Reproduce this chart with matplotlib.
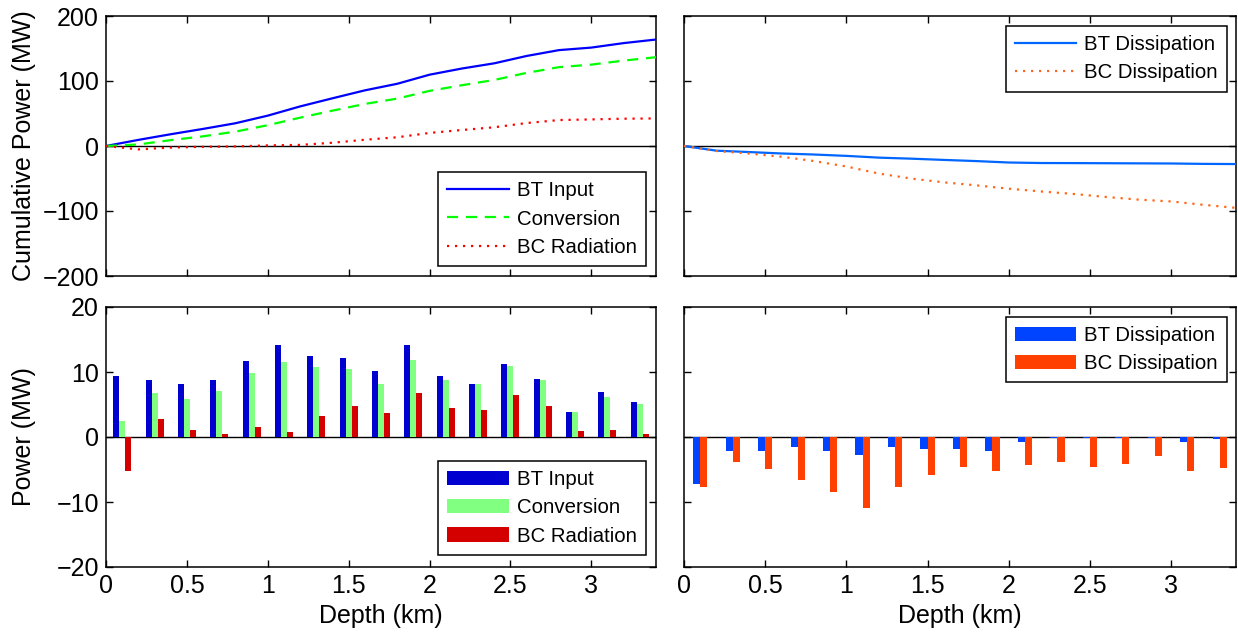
import numpy as np
import matplotlib
matplotlib.use("Agg")
import matplotlib.pyplot as plt

plt.rcParams['font.family'] = ['Liberation Sans', 'DejaVu Sans']

# ---------------- data ----------------
depth_cum = [0.0, 0.2, 0.4, 0.6, 0.8, 1.0, 1.2, 1.4, 1.6, 1.8, 2.0,
             2.2, 2.4, 2.6, 2.8, 3.0, 3.2, 3.4]
cum_bt_input = [0, 9.4, 18.1, 26.3, 35.0, 46.7, 60.9, 73.4, 85.6, 95.7, 109.7,
                119.2, 127.2, 138.5, 147.5, 151.4, 158.3, 163.8]
cum_conversion = [0, 2.4, 9.0, 14.9, 22.1, 32.0, 43.6, 54.4, 64.7, 72.9, 84.8,
                  93.5, 101.6, 112.5, 121.3, 125.2, 131.4, 136.6]
cum_bc_radiation = [0, -5.2, -2.4, -1.2, -0.7, 0.9, 1.7, 5.0, 9.6, 13.4, 20.1,
                    24.6, 28.8, 35.3, 39.9, 40.9, 42.0, 42.4]
cum_bt_diss = [0, -7.2, -9.3, -11.5, -13.1, -15.2, -17.9, -19.5, -21.4, -23.2, -25.4,
               -26.2, -26.3, -26.5, -26.7, -26.9, -27.5, -27.8]
cum_bc_diss = [0, -7.7, -11.6, -16.5, -23.1, -31.5, -42.4, -50.1, -55.9, -60.5, -65.7,
               -69.9, -73.8, -78.4, -82.5, -85.3, -90.5, -95.2]

depth_bin = [0.1, 0.3, 0.5, 0.7, 0.9, 1.1, 1.3, 1.5, 1.7, 1.9, 2.1,
             2.3, 2.5, 2.7, 2.9, 3.1, 3.3]
bt_input = [9.4, 8.7, 8.2, 8.7, 11.7, 14.2, 12.5, 12.2, 10.1, 14.1, 9.4,
            8.1, 11.3, 9.0, 3.9, 7.0, 5.4]
conversion = [2.4, 6.7, 5.9, 7.1, 9.9, 11.6, 10.8, 10.4, 8.2, 11.9, 8.7,
              8.1, 11.0, 8.8, 3.9, 6.2, 5.1]
bc_radiation = [-5.2, 2.8, 1.1, 0.5, 1.6, 0.8, 3.3, 4.7, 3.7, 6.7, 4.5,
                4.2, 6.5, 4.7, 1.0, 1.1, 0.4]
bt_diss = [-7.2, -2.1, -2.2, -1.6, -2.1, -2.7, -1.6, -1.9, -1.8, -2.2, -0.8,
           -0.1, -0.2, -0.2, -0.15, -0.7, -0.3]
bc_diss = [-7.7, -3.9, -4.9, -6.6, -8.5, -10.9, -7.7, -5.8, -4.6, -5.2, -4.3,
           -3.9, -4.6, -4.1, -2.9, -5.2, -4.7]

xticks = [0, 0.5, 1, 1.5, 2, 2.5, 3]
xticklabels = ['0', '0.5', '1', '1.5', '2', '2.5', '3']
top_yticks = [-200, -100, 0, 100, 200]
bot_yticks = [-20, -10, 0, 10, 20]

# ---------------- figure ----------------
W, H = 1238, 635
fig = plt.figure(figsize=(W / 100, H / 100), dpi=100)

def rect(x0, y0, x1, y1):
    return [x0 / W, 1 - y1 / H, (x1 - x0) / W, (y1 - y0) / H]

ax_tl = fig.add_axes(rect(106, 16, 656, 276))
ax_tr = fig.add_axes(rect(684, 16, 1236, 276))
ax_bl = fig.add_axes(rect(106, 307, 656, 567))
ax_br = fig.add_axes(rect(684, 307, 1236, 567))

FS = 18
LFS = 14.7

def style(ax, ylim, yticks, show_x, show_y):
    ax.set_xlim(0, 3.4)
    ax.set_ylim(*ylim)
    ax.set_xticks(xticks)
    ax.set_yticks(yticks)
    if show_x:
        ax.set_xticklabels(xticklabels)
        ax.set_xlabel('Depth (km)', fontsize=FS, labelpad=4)
    else:
        ax.set_xticklabels([])
    if not show_y:
        ax.set_yticklabels([])
    ax.tick_params(direction='in', length=5, width=1, top=True, right=True,
                   labelsize=FS, pad=5, colors='black')
    for s in ax.spines.values():
        s.set_linewidth(1.1)
        s.set_color('black')
    ax.axhline(0, color='black', lw=1.0, zorder=1)

def legend(ax, anchor, **kw):
    leg = ax.legend(loc='upper right', bbox_to_anchor=anchor, fontsize=LFS,
                    fancybox=False, framealpha=1, edgecolor='black',
                    handlelength=3.0, handletextpad=0.4, labelspacing=0.46,
                    borderpad=0.45, borderaxespad=0, **kw)
    leg.get_frame().set_linewidth(1.1)
    return leg

# top-left
ax_tl.plot(depth_cum, cum_bt_input, color='#0000ff', lw=1.6, label='BT Input', zorder=3)
ax_tl.plot(depth_cum, cum_conversion, color='#00ff00', lw=1.6, dashes=(5, 3.5), label='Conversion', zorder=3)
ax_tl.plot(depth_cum, cum_bc_radiation, color='#ff0000', lw=1.6, ls=(0, (1, 2.6)), label='BC Radiation', zorder=3)
style(ax_tl, (-200, 200), top_yticks, False, True)
ax_tl.set_ylabel('Cumulative Power (MW)', fontsize=FS)
ax_tl.yaxis.set_label_coords(-0.128, 0.5)
legend(ax_tl, (0.982, 0.40))

# top-right
ax_tr.plot(depth_cum, cum_bt_diss, color='#0066ff', lw=1.6, label='BT Dissipation', zorder=3)
ax_tr.plot(depth_cum, cum_bc_diss, color='#ff6619', lw=1.6, ls=(0, (1, 2.6)), label='BC Dissipation', zorder=3)
style(ax_tr, (-200, 200), top_yticks, False, False)
legend(ax_tr, (0.984, 0.962))

# bottom-left
bw = 0.037
xb = np.array(depth_bin)
ax_bl.bar(xb - bw, bt_input, width=bw, color='#0000d0', label='BT Input', zorder=2)
ax_bl.bar(xb, conversion, width=bw, color='#80ff80', label='Conversion', zorder=2)
ax_bl.bar(xb + bw, bc_radiation, width=bw, color='#d40000', label='BC Radiation', zorder=2)
style(ax_bl, (-20, 20), bot_yticks, True, True)
ax_bl.set_ylabel('Power (MW)', fontsize=FS)
ax_bl.yaxis.set_label_coords(-0.128, 0.5)
legend(ax_bl, (0.982, 0.409))

# bottom-right
bw2 = 0.044
ax_br.bar(xb - bw2 / 2, bt_diss, width=bw2, color='#0044ff', label='BT Dissipation', zorder=2)
ax_br.bar(xb + bw2 / 2, bc_diss, width=bw2, color='#ff4000', label='BC Dissipation', zorder=2)
style(ax_br, (-20, 20), bot_yticks, True, False)
legend(ax_br, (0.984, 0.963))

fig.savefig('out.png', dpi=100)
